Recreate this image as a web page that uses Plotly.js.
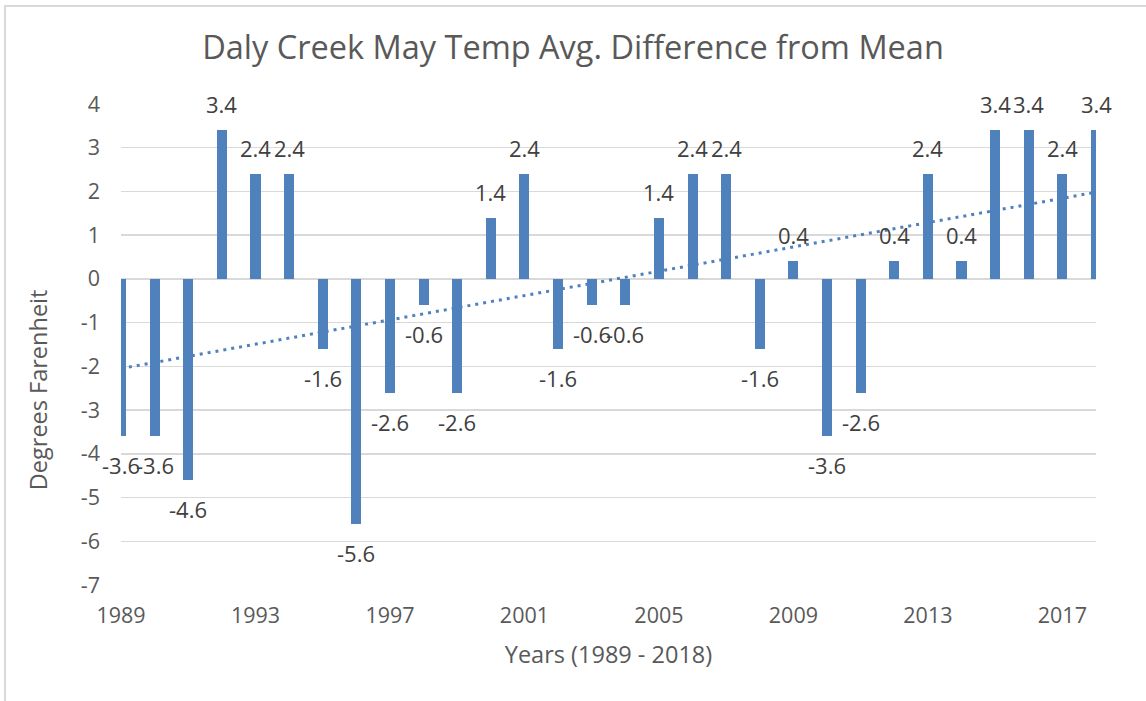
<!DOCTYPE html>
<html>
<head>
<meta charset="utf-8">
<script src="https://cdn.plot.ly/plotly-3.0.1.min.js"></script>
<style>
  html, body { margin: 0; padding: 0; background: #ffffff; overflow: hidden; }
  #wrap { position: relative; width: 1146px; height: 701px; }
  #chart { position: absolute; left: 0; top: 0; width: 1146px; height: 701px; }
  #frame { position: absolute; left: 4px; top: 5px; width: 1400px; height: 900px;
           border-left: 2px solid #d9d9d9; border-top: 2px solid #d9d9d9; pointer-events: none; }
</style>
</head>
<body>
<div id="wrap">
  <div id="chart"></div>
  <div id="frame"></div>
</div>
<script>
// ---- data ----
const years = [1989, 1990, 1991, 1992, 1993, 1994, 1995, 1996, 1997, 1998,
               1999, 2000, 2001, 2002, 2003, 2004, 2005, 2006, 2007, 2008,
               2009, 2010, 2011, 2012, 2013, 2014, 2015, 2016, 2017, 2018];
const tempDiff = [-3.6, -3.6, -4.6, 3.4, 2.4, 2.4, -1.6, -5.6, -2.6, -0.6,
                  -2.6, 1.4, 2.4, -1.6, -0.6, -0.6, 1.4, 2.4, 2.4, -1.6,
                  0.4, -3.6, -2.6, 0.4, 2.4, 0.4, 3.4, 3.4, 2.4, 3.4];
const xTickVals = [1989, 1993, 1997, 2001, 2005, 2009, 2013, 2017];
const xTickText = ['1989', '1993', '1997', '2001', '2005', '2009', '2013', '2017'];
const yTickVals = [4, 3, 2, 1, 0, -1, -2, -3, -4, -5, -6, -7];
const yTickText = ['4', '3', '2', '1', '0', '-1', '-2', '-3', '-4', '-5', '-6', '-7'];

const chartTitle = 'Daly Creek May Temp Avg. Difference from Mean';
const xTitle = 'Years (1989 - 2018)';
const yTitle = 'Degrees Farenheit';

// ---- linear trendline (least squares fit of the data, like the spreadsheet trendline) ----
const n = years.length;
const mx = years.reduce((a, b) => a + b, 0) / n;
const my = tempDiff.reduce((a, b) => a + b, 0) / n;
let sxy = 0, sxx = 0;
for (let i = 0; i < n; i++) {
  sxy += (years[i] - mx) * (tempDiff[i] - my);
  sxx += (years[i] - mx) * (years[i] - mx);
}
const slope = sxy / sxx;
const intercept = my - slope * mx;
const trendX = [years[0], years[n - 1]];
const trendY = trendX.map(x => intercept + slope * x);

const BLUE = '#4f81bd';
const FONT = '"Open Sans", "Liberation Sans", sans-serif';

const bars = {
  type: 'bar',
  x: years,
  y: tempDiff,
  width: 0.3,
  marker: { color: BLUE, line: { width: 0 } },
  hoverinfo: 'x+y',
  showlegend: false
};

const trend = {
  type: 'scatter',
  mode: 'lines',
  x: trendX,
  y: trendY,
  line: { color: BLUE, width: 3, dash: '3px,5px' },
  hoverinfo: 'skip',
  showlegend: false
};

const labelAnnotations = years.map((yr, i) => ({
  x: yr,
  y: tempDiff[i],
  xref: 'x',
  yref: 'y',
  text: tempDiff[i].toFixed(1),
  showarrow: false,
  xanchor: 'center',
  yanchor: 'middle',
  yshift: tempDiff[i] >= 0 ? 26 : -29,
  font: { family: FONT, size: 22, color: '#404040' }
}));

const yTitleAnnotation = {
  xref: 'paper',
  yref: 'paper',
  x: -0.0851,
  y: 0.405,
  text: yTitle,
  textangle: -90,
  showarrow: false,
  xanchor: 'center',
  yanchor: 'middle',
  font: { family: FONT, size: 23.5, color: '#595959' }
};

const layout = {
  width: 1146,
  height: 701,
  margin: { l: 121, r: 50, t: 104, b: 116, pad: 0 },
  paper_bgcolor: 'rgba(0,0,0,0)',
  plot_bgcolor: '#ffffff',
  font: { family: FONT, color: '#595959' },
  title: {
    text: chartTitle,
    font: { family: FONT, size: 32.5, color: '#595959' },
    xref: 'container', x: 0.5, xanchor: 'center',
    yref: 'container', y: 0.9315, yanchor: 'middle'
  },
  xaxis: {
    type: 'linear',
    range: [1989, 2018],
    tickmode: 'array',
    tickvals: xTickVals,
    ticktext: xTickText,
    ticks: '',
    showgrid: false,
    zeroline: false,
    showline: false,
    ticklabelstandoff: 15,
    tickfont: { family: FONT, size: 21.5, color: '#595959' },
    title: { text: xTitle, standoff: 19, font: { family: FONT, size: 23.5, color: '#595959' } },
    automargin: false,
    fixedrange: true
  },
  yaxis: {
    range: [-7, 4],
    tickmode: 'array',
    tickvals: yTickVals,
    ticktext: yTickText,
    ticks: '',
    showgrid: true,
    gridcolor: '#d9d9d9',
    gridwidth: 1.5,
    zeroline: false,
    showline: false,
    ticklabelstandoff: 20,
    tickfont: { family: FONT, size: 21.5, color: '#595959' },
    automargin: false,
    fixedrange: true
  },
  bargap: 0,
  annotations: labelAnnotations.concat([yTitleAnnotation])
};

Plotly.newPlot('chart', [bars, trend], layout, { displayModeBar: false, staticPlot: true });
</script>
</body>
</html>
